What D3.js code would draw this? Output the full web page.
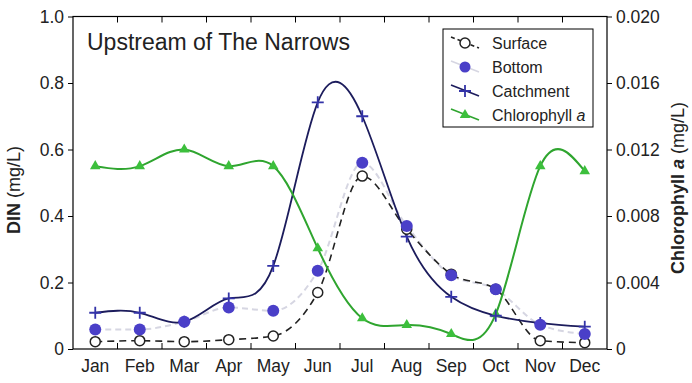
<!DOCTYPE html>
<html>
<head>
<meta charset="utf-8">
<script src="https://cdn.jsdelivr.net/npm/d3@7"></script>
<style>
body { margin: 0; background: #fff; }
svg { font-family: "Liberation Sans", Arial, sans-serif; }
</style>
</head>
<body>
<svg width="692" height="383"></svg>
<script>
var months = ["Jan", "Feb", "Mar", "Apr", "May", "Jun", "Jul", "Aug", "Sep", "Oct", "Nov", "Dec"];
var surface = [0.022, 0.025, 0.022, 0.028, 0.039, 0.17, 0.52, 0.36, 0.225, 0.18, 0.025, 0.019];
var bottom = [0.059, 0.059, 0.082, 0.125, 0.115, 0.235, 0.56, 0.37, 0.222, 0.18, 0.073, 0.045];
var catchment = [0.109, 0.109, 0.082, 0.152, 0.25, 0.742, 0.70, 0.338, 0.157, 0.10, 0.078, 0.067];
var chlorophyll = [0.011, 0.011, 0.012, 0.011, 0.011, 0.00606, 0.00185, 0.00144, 0.0009, 0.0021, 0.011, 0.0107];
var leftTicks = [0, 0.2, 0.4, 0.6, 0.8, 1.0];
var rightTicks = [0, 0.004, 0.008, 0.012, 0.016, 0.020];

var L = 73, R = 607, T = 16.5, B = 349;
var svg = d3.select("svg");

var x = d3.scaleBand().domain(months).range([L, R]).padding(0);
var y = d3.scaleLinear().domain([0, 1]).range([B, T]);
var y2 = d3.scaleLinear().domain([0, 0.02]).range([B, T]);
function cx(i) { return x(months[i]) + x.bandwidth() / 2; }

var navy = "#1c1c5c", blue = "#4a3fc8", green = "#2fa52f";

// axes
svg.append("g").attr("transform", "translate(" + L + ",0)")
	.call(d3.axisLeft(y).tickValues(leftTicks).tickSize(5).tickPadding(4).tickFormat(function (d) { return d == 0 ? "0" : d3.format(".1f")(d); }));
svg.append("g").attr("transform", "translate(" + R + ",0)")
	.call(d3.axisRight(y2).tickValues(rightTicks).tickSize(5).tickPadding(4).tickFormat(function (d) { return d == 0 ? "0" : d3.format(".3f")(d); }));
var inner = x.domain().slice(1).map(function (m) { return x(m); });
svg.append("g").attr("transform", "translate(0," + B + ")")
	.call(d3.axisBottom(x).tickSize(0).tickPadding(11));
svg.selectAll(".tickin").data(inner).enter().append("path")
	.attr("d", function (d) { return "M" + d + "," + B + "V" + (B - 6) + "M" + d + "," + T + "V" + (T + 6); })
	.attr("stroke", "#000").attr("stroke-width", 1);
svg.append("rect").attr("x", L).attr("y", T).attr("width", R - L).attr("height", B - T)
	.attr("fill", "none").attr("stroke", "#000").attr("stroke-width", 1.2);
svg.selectAll(".domain").remove();
svg.selectAll(".tick line").attr("stroke", "#000");
svg.selectAll(".tick text").attr("font-size", 17.5).attr("fill", "#222");

// lines
var lineMono = d3.line().x(function (d, i) { return cx(i); }).y(function (d) { return y(d); }).curve(d3.curveMonotoneX);
var lineNat = d3.line().x(function (d, i) { return cx(i); }).y(function (d) { return y(d); }).curve(d3.curveNatural);
var lineChl = d3.line().x(function (d, i) { return cx(i); }).y(function (d) { return y2(d); }).curve(d3.curveNatural);

svg.append("path").attr("d", lineMono(bottom)).attr("fill", "none").attr("stroke", "#d6d6e2").attr("stroke-width", 2).attr("stroke-dasharray", "6,4");
svg.append("path").attr("d", lineMono(surface)).attr("fill", "none").attr("stroke", "#222").attr("stroke-width", 1.6).attr("stroke-dasharray", "7,5");
svg.append("path").attr("d", lineNat(catchment)).attr("fill", "none").attr("stroke", navy).attr("stroke-width", 1.8);
svg.append("path").attr("d", lineChl(chlorophyll)).attr("fill", "none").attr("stroke", green).attr("stroke-width", 2);

// markers
var tri = d3.symbol().type(d3.symbolTriangle).size(48);
svg.selectAll(".chl").data(chlorophyll).enter().append("path")
	.attr("transform", function (d, i) { return "translate(" + cx(i) + "," + y2(d) + ")"; })
	.attr("d", tri).attr("fill", "#3cbf3c");
svg.selectAll(".cat").data(catchment).enter().append("path")
	.attr("d", function (d, i) { var a = cx(i), b = y(d); return "M" + (a - 6) + "," + b + "H" + (a + 6) + "M" + a + "," + (b - 6) + "V" + (b + 6); })
	.attr("stroke", "#3333a8").attr("stroke-width", 1.8);
svg.selectAll(".sur").data(surface).enter().append("circle")
	.attr("cx", function (d, i) { return cx(i); }).attr("cy", function (d) { return y(d); }).attr("r", 5)
	.attr("fill", "#fff").attr("stroke", "#222").attr("stroke-width", 1.5);
svg.selectAll(".bot").data(bottom).enter().append("circle")
	.attr("cx", function (d, i) { return cx(i); }).attr("cy", function (d) { return y(d); }).attr("r", 6)
	.attr("fill", blue);

// title
svg.append("text").attr("x", 87).attr("y", 50).attr("font-size", 23).attr("fill", "#222").text("Upstream of The Narrows");

// axis labels
var yl = svg.append("text").attr("transform", "translate(20," + 190 + ") rotate(-90)").attr("text-anchor", "middle").attr("font-size", 18).attr("fill", "#222");
yl.append("tspan").attr("font-weight", "bold").text("DIN ");
yl.append("tspan").text("(mg/L)");
var yr = svg.append("text").attr("transform", "translate(684," + 188 + ") rotate(-90)").attr("text-anchor", "middle").attr("font-size", 18).attr("fill", "#222");
yr.append("tspan").attr("font-weight", "bold").text("Chlorophyll ");
yr.append("tspan").attr("font-weight", "bold").attr("font-style", "italic").text("a");
yr.append("tspan").text(" (mg/L)");

// legend
var lg = svg.append("g").attr("transform", "translate(443,29)");
lg.append("rect").attr("width", 150).attr("height", 98).attr("fill", "#fff").attr("stroke", "#000").attr("stroke-width", 1);
var names = ["Surface", "Bottom", "Catchment", "Chlorophyll"];
names.forEach(function (n, k) {
	var cy = 14 + k * 24, g = lg.append("g");
	var col = ["#222", "#d6d6e2", navy, green][k];
	g.append("path").attr("d", "M8," + (cy - 6) + "L36," + (cy + 5)).attr("stroke", col).attr("stroke-width", 1.6)
		.attr("stroke-dasharray", k == 0 ? "4,3" : null);
	if (k == 0) g.append("circle").attr("cx", 22).attr("cy", cy).attr("r", 5).attr("fill", "#fff").attr("stroke", "#222").attr("stroke-width", 1.5);
	if (k == 1) g.append("circle").attr("cx", 22).attr("cy", cy).attr("r", 5.5).attr("fill", blue);
	if (k == 2) g.append("path").attr("d", "M16," + cy + "H28M22," + (cy - 6) + "V" + (cy + 6)).attr("stroke", "#3333a8").attr("stroke-width", 1.8);
	if (k == 3) g.append("path").attr("transform", "translate(22," + cy + ")").attr("d", tri).attr("fill", "#3cbf3c");
	var t = g.append("text").attr("x", 49).attr("y", cy + 6).attr("font-size", 16).attr("fill", "#222").text(n);
	if (k == 3) t.append("tspan").attr("font-style", "italic").text(" a");
});
</script>
</body>
</html>
